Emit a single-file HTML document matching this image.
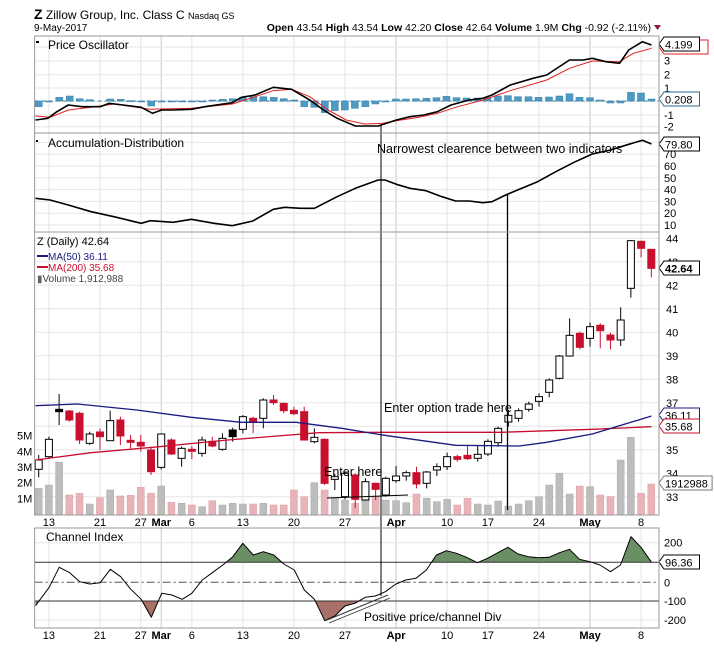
<!DOCTYPE html>
<html><head><meta charset="utf-8"><style>
body{margin:0;background:#fff;}
svg{display:block;font-family:"Liberation Sans",Arial,sans-serif;}
</style></head><body>
<svg id="s" width="714" height="648" xmlns="http://www.w3.org/2000/svg"></svg>
<script>
const S=document.getElementById('s');let h='';
const L=34.6,R=659;
const X=i=>38.7+10.21*i, ZX=z=>z/2.195;
function line(x1,y1,x2,y2,c,w,d){h+=`<line x1="${x1}" y1="${y1}" x2="${x2}" y2="${y2}" stroke="${c}" stroke-width="${w||1}" ${d?`stroke-dasharray="${d}"`:''}/>`;}
function txt(x,y,t,sz,o){h+=`<text x="${x}" y="${y}" font-size="${sz||11}" ${o||''}>${t}</text>`;}
function poly(pts,c,w){h+=`<polyline fill="none" stroke="${c}" stroke-width="${w||1}" stroke-linejoin="round" points="${pts.map(p=>p[0].toFixed(1)+','+p[1].toFixed(1)).join(' ')}"/>`;}
function zpts(a,off){const r=[];for(let k=0;k<a.length;k+=2)r.push([ZX(a[k]),a[k+1]/3+off]);return r;}
function tag(x,y,t,c,bold){const w=t.length*6.3+4;h+=`<path d="M${x},${y} l5,-7 h${w} v14 h-${w} z" fill="#fff" stroke="${c}"/>`;txt(x+6,y+4.5,t,11,`fill="#000" ${bold?'font-weight="bold" font-size="12"':''}`);}
// panels
const panels=[[36,133],[133,232],[232,515],[528,628]];
const mondays=[1,6,10,15,20,25,30,35,40,44,49,54,59];const months=[12,35,54];
panels.forEach(([t,b])=>{mondays.forEach(i=>line(X(i),t,X(i),b,'#e4e4e4'));months.forEach(i=>line(X(i),t,X(i),b,'#c8c8c8'));});
// horizontal grids
[47,61,74.7,88,101.5,115,126.7].forEach(y=>line(L,y,R,y,'#e6e6e6'));
for(let v=10;v<=80;v+=10){const y=225-(v-10)*1.18;line(L,y,R,y,'#e6e6e6');}
const PY=p=>238.3+(44-p)*23.5;
for(let p=33;p<=44;p++)line(L,PY(p),R,PY(p),'#e6e6e6');
[542.7,620].forEach(y=>line(L,y,R,y,'#e6e6e6'));
// header
txt(34,19,'<tspan font-weight="bold" font-size="14">Z</tspan> Zillow Group, Inc. Class C <tspan font-size="9">Nasdaq GS</tspan>',12);
txt(34,31,'9-May-2017',10);
txt(651,31,'<tspan font-weight="bold">Open</tspan> 43.54 <tspan font-weight="bold">High</tspan> 43.54 <tspan font-weight="bold">Low</tspan> 42.20 <tspan font-weight="bold">Close</tspan> 42.64 <tspan font-weight="bold">Volume</tspan> 1.9M <tspan font-weight="bold">Chg</tspan> -0.92 (-2.11%)','10.5','text-anchor="end"');
h+=`<path d="M654,25 h7 l-3.5,5 z" fill="#8b1a3a"/>`;
// ===== Price oscillator =====
txt(48,49,'Price Oscillator',12);h+=`<rect x="36" y="41" width="3" height="2" fill="#000"/>`;
line(L,101,R,101,'#3a8ab0',1,'4,3');
const hist=[[85,320],[107,303],[130,292],[153,288],[175,296],[197,299],[242,297],[265,298],[287,302],[310,305],[332,318],[355,303],[377,303],[400,303],[421,303],[444,303],[466,300],[489,298],[511,296],[533,292],[556,290],[578,290],[601,292],[623,296],[646,300],[668,320],[690,322],[713,338],[735,332],[757,330],[779,325],[802,320],[824,312],[846,305],[869,297],[891,297],[913,296],[936,295],[958,293],[980,289],[1002,293],[1024,294],[1048,294],[1070,292],[1093,288],[1115,287],[1137,290],[1160,290],[1182,292],[1205,291],[1228,288],[1250,281],[1272,292],[1295,293],[1317,300],[1340,309],[1362,309],[1385,277],[1407,279],[1430,297]];
hist.forEach(([zx,zy])=>{const x=ZX(zx),y=zy/3,b=101;h+=`<rect x="${x-3.5}" y="${Math.min(y,b)}" width="7" height="${Math.max(1,Math.abs(y-b))}" fill="#4d9ac4" stroke="#3a80a8" stroke-width="0.5"/>`;});
poly(zpts([78,348,110,352,150,330,200,322,250,312,330,328,420,325,510,312,560,290,600,272,640,268,680,290,720,330,760,360,800,372,840,370,880,360,920,352,960,340,1000,322,1060,300,1120,272,1200,240,1250,205,1300,183,1360,185,1390,160,1430,145],0),'#e02020',1);
poly(zpts([78,360,105,355,125,335,150,315,180,320,220,320,240,310,270,315,310,322,335,340,355,330,380,330,420,328,450,320,510,308,530,292,560,285,600,262,640,268,680,300,710,330,740,355,780,378,830,378,870,360,900,350,930,345,960,335,990,315,1030,300,1060,295,1080,285,1120,255,1170,235,1200,225,1250,180,1280,180,1300,175,1330,185,1360,190,1380,150,1410,125,1430,135],0),'#000',1.6);
[['3',60.7],['2',74.7],['1',88],['-1',115],['-2',126.7]].forEach(([t,y])=>txt(664,y+4,t,11));
h+=`<path d="M${R},44 l5,-7 h44 v14 h-44 z" fill="none" stroke="#e02020" transform="translate(0,3)"/>`;
tag(R,44,'4.199','#000');tag(R,99,'0.208','#2a6a90');
// ===== Accum Dist =====
txt(48,147,'Accumulation-Distribution',12);h+=`<rect x="36" y="140" width="2" height="2" fill="#000"/>`;
poly(zpts([78,595,110,600,150,615,200,635,250,650,310,670,330,662,380,667,420,658,470,670,510,677,555,663,600,628,625,622,660,625,690,625,740,590,780,565,830,540,845,540,870,553,900,565,935,572,970,590,1000,603,1030,603,1060,608,1080,605,1110,585,1140,568,1180,545,1220,515,1260,487,1300,462,1340,450,1380,433,1410,421,1430,432],0),'#000',1.6);
for(let v=10;v<=70;v+=10)txt(664,225-(v-10)*1.18+4,v,11);
tag(R,144,'79.80','#000');
txt(377,153,'Narrowest clearence between two indicators',12.5);
// ===== Price panel =====
const C=[[690,718,675,742,'w',775],[628,680,620,684,'w',765],[538,545,492,585,'b',697],[543,570,540,575,'r',795],[550,630,545,642,'r',790],[612,640,605,645,'w',822],[606,620,595,660,'r',803],[572,632,542,632,'w',780],[570,618,560,645,'r',798],[631,637,615,655,'r',796],[637,648,615,665,'r',772],[660,725,650,735,'r',790],[612,712,610,718,'w',768],[630,672,625,675,'r',817],[655,685,650,710,'w',820],[658,664,648,688,'r',825],[630,670,620,680,'w',830],[634,648,620,652,'r',812],[625,658,610,662,'w',825],[600,620,593,635,'b',820],[560,598,555,610,'w',822],[565,575,560,610,'r',822],[510,565,505,595,'w',820],[510,518,495,525,'r',825],[520,542,518,550,'r',825],[541,551,530,555,'r',780],[545,630,530,632,'r',800],[622,635,595,640,'w',758],[628,760,625,765,'r',780],[740,748,732,780,'w',803],[730,800,725,808,'w',810],[735,808,730,835,'r',820],[755,810,745,812,'w',790],[760,778,758,810,'r',800],[745,795,740,800,'w',810],[738,752,708,758,'w',812],[728,738,722,752,'w',818],[728,762,710,775,'r',792],[726,760,723,775,'w',805],[710,720,700,738,'w',815],[680,710,668,720,'w',808],[680,688,674,695,'r',825],[676,686,645,690,'r',805],[673,685,648,695,'w',822],[634,672,628,678,'w',825],[595,638,590,650,'w',813],[556,576,540,590,'w',828],[542,565,535,575,'w',822],[522,538,515,545,'w',812],[500,514,490,530,'w',800],[450,487,445,502,'w',765],[378,445,375,448,'w',730],[316,378,265,380,'w',792],[310,352,305,358,'r',768],[290,325,278,350,'w',770],[286,302,280,355,'r',795],[315,330,308,358,'r',800],[270,330,232,348,'w',690],[32,175,30,203,'w',622],[34,55,32,82,'r',790],[58,115,58,142,'r',762]];
const Z=z=>230+z/3;
C.forEach((c,i)=>{const x=X(i);h+=`<rect x="${x-3.5}" y="${Z(c[5])}" width="7" height="${515-Z(c[5])}" fill="${c[4]=='r'?'#e8b4b8':'#bdbdbd'}" stroke="${c[4]=='r'?'#d8a0a6':'#aaa'}" stroke-width="0.5"/>`;});
C.forEach((c,i)=>{const x=X(i);line(x,Z(c[2]),x,Z(c[3]),c[4]=='r'?'#c8102e':'#000',1);
const f=c[4]=='r'?'#c8102e':c[4]=='b'?'#000':'#fff',s=c[4]=='r'?'#c8102e':'#000';
h+=`<rect x="${x-3.5}" y="${Z(c[0])}" width="7" height="${Math.max(1.5,(c[1]-c[0])/3)}" fill="${f}" stroke="${s}" stroke-width="1"/>`;});
poly(zpts([78,690,200,668,350,650,500,630,700,608,850,607,1100,607,1300,598,1430,590],230),'#c8102e',1.3);
poly(zpts([78,527,170,522,300,540,420,562,530,577,650,577,750,595,850,617,1000,646,1140,648,1200,637,1300,612,1430,558],230),'#1a1a80',1.3);
for(let p=33;p<=44;p++){if(p!=36)txt(666,PY(p)+4,p,11);}
[['5M',435.7],['4M',451.3],['3M',467],['2M',482.7],['1M',498.3]].forEach(([t,y])=>txt(17,y+4,t,11));
tag(R,268,'42.64','#000',1);tag(R,415,'36.11','#1a1a80');tag(R,426,'35.68','#c8102e');tag(R,483,'1912988','#777');
txt(37,245,'Z (Daily) 42.64',11);
line(37,256,48,256,'#1a1a80',2);txt(48,260,'MA(50) 36.11',10,'fill="#1a1a80"');
line(37,267,48,267,'#c8102e',2);txt(48,271,'MA(200) 35.68',10,'fill="#c8102e"');
txt(37,282,'<tspan fill="#666">▮</tspan>Volume 1,912,988',10,'fill="#444"');
line(327,498,408,495,'#000',1);
txt(324,476,'Enter here',12.5);
txt(384,412,'Enter option trade here',12.5);
// x labels
const lab=[[1,'13'],[6,'21'],[10,'27'],[12,'Mar',1],[15,'6'],[20,'13'],[25,'20'],[30,'27'],[35,'Apr',1],[40,'10'],[44,'17'],[49,'24'],[54,'May',1],[59,'8']];
[526,639].forEach(y=>lab.forEach(([i,t,b])=>txt(X(i),y,t,11,`text-anchor="middle" ${b?'font-weight="bold"':''}`)));
// ===== CCI =====
txt(46,541,'Channel Index',12);
const cz=[78,287,108,232,130,172,153,188,175,215,197,222,220,218,242,178,265,200,287,238,310,268,332,322,355,250,377,255,400,268,421,250,444,210,466,188,489,165,511,140,533,100,556,135,578,125,601,135,623,162,646,180,668,240,690,268,713,332,735,318,757,288,779,280,802,262,824,258,846,245,869,222,891,210,913,205,936,180,958,135,980,122,1002,130,1024,142,1048,158,1070,145,1093,128,1115,112,1137,132,1160,140,1182,143,1205,142,1228,128,1250,118,1272,148,1295,155,1317,165,1340,185,1362,165,1385,80,1407,112,1430,157];
const cp=zpts(cz,510);const ps=cp.map(p=>p[0].toFixed(1)+','+p[1].toFixed(1)).join(' ');
h+=`<defs><clipPath id="ca"><rect x="0" y="0" width="714" height="562.3"/></clipPath><clipPath id="cb"><rect x="0" y="601" width="714" height="47"/></clipPath></defs>`;
h+=`<polygon clip-path="url(#ca)" fill="#6b8f64" points="${cp[0][0]},562.3 ${ps} ${cp[cp.length-1][0]},562.3"/>`;
h+=`<polygon clip-path="url(#cb)" fill="#a87068" points="${cp[0][0]},601 ${ps} ${cp[cp.length-1][0]},601"/>`;
line(L,562.3,R,562.3,'#333',1);line(L,601,R,601,'#333',1);line(L,582.3,R,582.3,'#555',1,'8,3,2,3');
poly(cp,'#000',1);
line(327,620,388,595,'#333',1);line(329,623,390,598,'#333',0.8);
txt(364,621,'Positive price/channel Div',12);
[['200',542.7],['0',582.3],['-100',601],['-200',620]].forEach(([t,y])=>txt(664,y+4,t,11));
tag(R,562,'96.36','#000');
// vertical annotation lines
line(381,125,381,596,'#000',1);line(507.5,194,507.5,510,'#000',1.3);
// frames
panels.forEach(([t,b])=>h+=`<rect x="${L}" y="${t}" width="${R-L}" height="${b-t}" fill="none" stroke="#999"/>`);
S.innerHTML=h;
</script>
</body></html>
